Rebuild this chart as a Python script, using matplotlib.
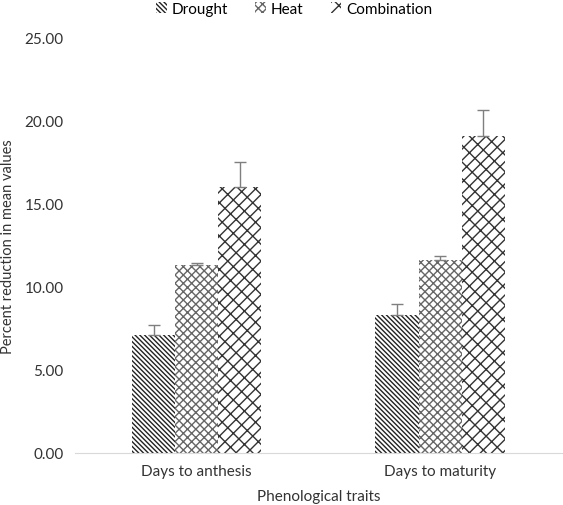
import numpy as np
import matplotlib
matplotlib.use("Agg")
from matplotlib import pyplot as plt

plt.rcParams['font.family'] = ['Lato', 'DejaVu Sans']
plt.rcParams['hatch.linewidth'] = 1.0

traits = ["Days to anthesis", "Days to maturity"]
series = ["Drought", "Heat", "Combination"]
drought = [7.1, 8.3]
heat = [11.3, 11.6]
combination = [16.0, 19.1]
drought_err = [0.6, 0.65]
heat_err = [0.15, 0.25]
combination_err = [1.55, 1.55]

values = [drought, heat, combination]
errors = [drought_err, heat_err, combination_err]
hatches = ["\\\\\\\\\\\\\\", "xxxx", "///\\\\"]
edge_colors = ["#222222", "#666666", "#333333"]

fig = plt.figure(figsize=(5.63, 5.06), dpi=100)
ax = fig.add_axes([0.133, 0.103, 0.865, 0.82])

x = np.arange(len(traits))
width = 0.177
for i, name in enumerate(series):
    pos = x + (i - 1) * width
    ax.bar(pos, values[i], width, color="white", edgecolor=edge_colors[i],
           hatch=hatches[i], linewidth=0, label=name)
    ax.errorbar(pos, values[i], yerr=[[0] * len(pos), errors[i]], fmt="none",
                ecolor="#7f7f7f", elinewidth=1, capsize=4, capthick=1)

ax.set_xlim(-0.5, 1.5)
ax.set_ylim(0, 25)
ax.set_yticks(np.arange(0, 26, 5))
ax.set_yticklabels([f"{v:.2f}" for v in np.arange(0, 26, 5)])
ax.set_xticks(x)
ax.set_xticklabels(traits)
ax.tick_params(axis="both", length=0, labelsize=11, colors="#333333", pad=8)
for side in ["top", "right", "left"]:
    ax.spines[side].set_visible(False)
ax.spines["bottom"].set_color("#d9d9d9")
ax.set_xlabel("Phenological traits", fontsize=11, color="#333333", labelpad=8)
ax.set_ylabel("Percent reduction in mean values", fontsize=10.5, color="#333333")
ax.yaxis.set_label_coords(-0.122, 0.5)

ax.legend(loc="upper center", bbox_to_anchor=(0.45, 1.12), ncol=3, frameon=False,
          fontsize=11, handlelength=0.7, handleheight=0.7, columnspacing=1.8,
          handletextpad=0.3)

fig.savefig("out.png", dpi=100)
